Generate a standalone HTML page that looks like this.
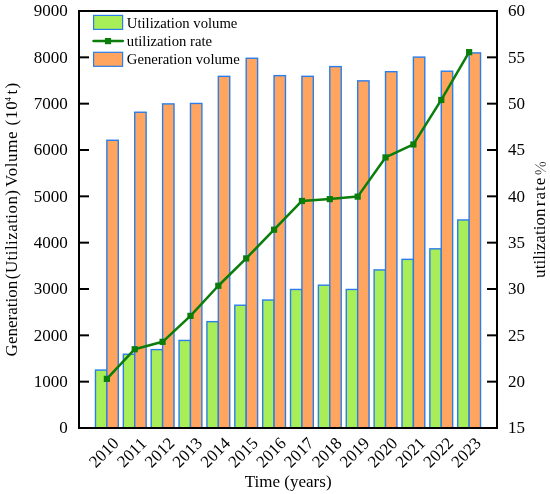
<!DOCTYPE html><html><head><meta charset="utf-8"><title>chart</title><style>html,body{margin:0;padding:0;background:#fff}svg{display:block}text{font-family:"Liberation Serif","Times New Roman",serif;fill:#000}</style></head><body>
<svg width="550" height="494" viewBox="0 0 550 494">
<rect width="550" height="494" fill="#fff"/>
<g stroke="#2A7DEB" stroke-width="1.4">
<rect x="95.47" y="370.08" width="11.40" height="57.92" fill="#A8EE58"/>
<rect x="123.33" y="354.24" width="11.40" height="73.76" fill="#A8EE58"/>
<rect x="151.20" y="349.60" width="11.40" height="78.40" fill="#A8EE58"/>
<rect x="179.07" y="340.43" width="11.40" height="87.57" fill="#A8EE58"/>
<rect x="206.93" y="321.66" width="11.40" height="106.34" fill="#A8EE58"/>
<rect x="234.80" y="305.22" width="11.40" height="122.78" fill="#A8EE58"/>
<rect x="262.67" y="300.03" width="11.40" height="127.97" fill="#A8EE58"/>
<rect x="290.53" y="289.46" width="11.40" height="138.54" fill="#A8EE58"/>
<rect x="318.40" y="285.20" width="11.40" height="142.80" fill="#A8EE58"/>
<rect x="346.27" y="289.46" width="11.40" height="138.54" fill="#A8EE58"/>
<rect x="374.13" y="269.91" width="11.40" height="158.09" fill="#A8EE58"/>
<rect x="402.00" y="259.35" width="11.40" height="168.65" fill="#A8EE58"/>
<rect x="429.87" y="248.83" width="11.40" height="179.17" fill="#A8EE58"/>
<rect x="457.73" y="219.96" width="11.40" height="208.04" fill="#A8EE58"/>
<rect x="106.87" y="140.27" width="11.40" height="287.73" fill="#FFA55F"/>
<rect x="134.73" y="112.24" width="11.40" height="315.76" fill="#FFA55F"/>
<rect x="162.60" y="103.90" width="11.40" height="324.10" fill="#FFA55F"/>
<rect x="190.47" y="103.44" width="11.40" height="324.56" fill="#FFA55F"/>
<rect x="218.33" y="76.33" width="11.40" height="351.67" fill="#FFA55F"/>
<rect x="246.20" y="58.26" width="11.40" height="369.74" fill="#FFA55F"/>
<rect x="274.07" y="75.63" width="11.40" height="352.37" fill="#FFA55F"/>
<rect x="301.93" y="76.33" width="11.40" height="351.67" fill="#FFA55F"/>
<rect x="329.80" y="66.60" width="11.40" height="361.40" fill="#FFA55F"/>
<rect x="357.67" y="80.87" width="11.40" height="347.13" fill="#FFA55F"/>
<rect x="385.53" y="71.70" width="11.40" height="356.30" fill="#FFA55F"/>
<rect x="413.40" y="57.10" width="11.40" height="370.90" fill="#FFA55F"/>
<rect x="441.27" y="71.23" width="11.40" height="356.77" fill="#FFA55F"/>
<rect x="469.13" y="52.89" width="11.40" height="375.11" fill="#FFA55F"/>
</g>
<polyline points="106.87,378.89 134.73,349.23 162.60,341.82 190.47,315.87 218.33,285.76 246.20,258.42 274.07,229.69 301.93,200.97 329.80,199.11 357.67,196.61 385.53,157.41 413.40,144.44 441.27,99.96 469.13,52.14" fill="none" stroke="#0A7D0A" stroke-width="2.5" stroke-linejoin="round" stroke-linecap="round"/>
<rect x="103.77" y="375.79" width="6.2" height="6.2" fill="#0A7D0A"/>
<rect x="131.63" y="346.13" width="6.2" height="6.2" fill="#0A7D0A"/>
<rect x="159.50" y="338.72" width="6.2" height="6.2" fill="#0A7D0A"/>
<rect x="187.37" y="312.77" width="6.2" height="6.2" fill="#0A7D0A"/>
<rect x="215.23" y="282.66" width="6.2" height="6.2" fill="#0A7D0A"/>
<rect x="243.10" y="255.32" width="6.2" height="6.2" fill="#0A7D0A"/>
<rect x="270.97" y="226.59" width="6.2" height="6.2" fill="#0A7D0A"/>
<rect x="298.83" y="197.87" width="6.2" height="6.2" fill="#0A7D0A"/>
<rect x="326.70" y="196.01" width="6.2" height="6.2" fill="#0A7D0A"/>
<rect x="354.57" y="193.51" width="6.2" height="6.2" fill="#0A7D0A"/>
<rect x="382.43" y="154.31" width="6.2" height="6.2" fill="#0A7D0A"/>
<rect x="410.30" y="141.34" width="6.2" height="6.2" fill="#0A7D0A"/>
<rect x="438.17" y="96.86" width="6.2" height="6.2" fill="#0A7D0A"/>
<rect x="466.03" y="49.04" width="6.2" height="6.2" fill="#0A7D0A"/>
<rect x="79.0" y="11.0" width="418.0" height="417.0" fill="none" stroke="#000" stroke-width="2"/>
<g stroke="#000" stroke-width="2">
<line x1="80.0" x2="89.0" y1="381.67" y2="381.67"/>
<line x1="80.0" x2="89.0" y1="335.33" y2="335.33"/>
<line x1="80.0" x2="89.0" y1="289.00" y2="289.00"/>
<line x1="80.0" x2="89.0" y1="242.67" y2="242.67"/>
<line x1="80.0" x2="89.0" y1="196.33" y2="196.33"/>
<line x1="80.0" x2="89.0" y1="150.00" y2="150.00"/>
<line x1="80.0" x2="89.0" y1="103.67" y2="103.67"/>
<line x1="80.0" x2="89.0" y1="57.33" y2="57.33"/>
<line x1="487.0" x2="496.0" y1="381.67" y2="381.67"/>
<line x1="487.0" x2="496.0" y1="335.33" y2="335.33"/>
<line x1="487.0" x2="496.0" y1="289.00" y2="289.00"/>
<line x1="487.0" x2="496.0" y1="242.67" y2="242.67"/>
<line x1="487.0" x2="496.0" y1="196.33" y2="196.33"/>
<line x1="487.0" x2="496.0" y1="150.00" y2="150.00"/>
<line x1="487.0" x2="496.0" y1="103.67" y2="103.67"/>
<line x1="487.0" x2="496.0" y1="57.33" y2="57.33"/>
</g>
<g font-size="17">
<text x="67.7" y="433.25" text-anchor="end">0</text>
<text x="67.7" y="386.92" text-anchor="end">1000</text>
<text x="67.7" y="340.58" text-anchor="end">2000</text>
<text x="67.7" y="294.25" text-anchor="end">3000</text>
<text x="67.7" y="247.92" text-anchor="end">4000</text>
<text x="67.7" y="201.58" text-anchor="end">5000</text>
<text x="67.7" y="155.25" text-anchor="end">6000</text>
<text x="67.7" y="108.92" text-anchor="end">7000</text>
<text x="67.7" y="62.58" text-anchor="end">8000</text>
<text x="67.7" y="16.25" text-anchor="end">9000</text>
<text x="507.9" y="433.25">15</text>
<text x="507.9" y="386.92">20</text>
<text x="507.9" y="340.58">25</text>
<text x="507.9" y="294.25">30</text>
<text x="507.9" y="247.92">35</text>
<text x="507.9" y="201.58">40</text>
<text x="507.9" y="155.25">45</text>
<text x="507.9" y="108.92">50</text>
<text x="507.9" y="62.58">55</text>
<text x="507.9" y="16.25">60</text>
<text transform="translate(103.67,452.3) rotate(-45)" y="5.75" text-anchor="middle">2010</text>
<text transform="translate(131.53,452.3) rotate(-45)" y="5.75" text-anchor="middle">2011</text>
<text transform="translate(159.40,452.3) rotate(-45)" y="5.75" text-anchor="middle">2012</text>
<text transform="translate(187.27,452.3) rotate(-45)" y="5.75" text-anchor="middle">2013</text>
<text transform="translate(215.13,452.3) rotate(-45)" y="5.75" text-anchor="middle">2014</text>
<text transform="translate(243.00,452.3) rotate(-45)" y="5.75" text-anchor="middle">2015</text>
<text transform="translate(270.87,452.3) rotate(-45)" y="5.75" text-anchor="middle">2016</text>
<text transform="translate(298.73,452.3) rotate(-45)" y="5.75" text-anchor="middle">2017</text>
<text transform="translate(326.60,452.3) rotate(-45)" y="5.75" text-anchor="middle">2018</text>
<text transform="translate(354.47,452.3) rotate(-45)" y="5.75" text-anchor="middle">2019</text>
<text transform="translate(382.33,452.3) rotate(-45)" y="5.75" text-anchor="middle">2020</text>
<text transform="translate(410.20,452.3) rotate(-45)" y="5.75" text-anchor="middle">2021</text>
<text transform="translate(438.07,452.3) rotate(-45)" y="5.75" text-anchor="middle">2022</text>
<text transform="translate(465.93,452.3) rotate(-45)" y="5.75" text-anchor="middle">2023</text>
<text x="288.2" y="486.9" text-anchor="middle">Time (years)</text>
<text transform="translate(17.1,0) rotate(-90)"><tspan x="-356.4">Generation</tspan> <tspan x="-279.2" letter-spacing="0.43">(Utilization)</tspan> <tspan x="-187" letter-spacing="0.58">Volume</tspan> <tspan x="-125.4" letter-spacing="0.75">(10</tspan><tspan x="-101.4" dy="-6" font-size="9">4</tspan> <tspan x="-94.6" dy="6" letter-spacing="1.4">t)</tspan></text>
<text transform="translate(545.4,0) rotate(-90)"><tspan x="-277.9" letter-spacing="0.05">utilization</tspan> <tspan x="-206.3" letter-spacing="1.05">rate</tspan><tspan x="-175.2" dy="0.2" font-size="15" fill="#222" style="font-family:'Noto Serif CJK SC','Liberation Serif',serif">%</tspan></text>
</g>
<rect x="93.6" y="15.4" width="29" height="14" fill="#A8EE58" stroke="#2A7DEB" stroke-width="1.2"/>
<line x1="93.5" x2="122.8" y1="41.1" y2="41.1" stroke="#0A7D0A" stroke-width="2.5" stroke-linecap="round"/>
<rect x="104.9" y="38" width="6.2" height="6.2" fill="#0A7D0A"/>
<rect x="93.6" y="52.3" width="29" height="14" fill="#FFA55F" stroke="#2A7DEB" stroke-width="1.2"/>
<g font-size="14.7">
<text x="126.8" y="27.9">Utilization volume</text>
<text x="126.8" y="45.8">utilization rate</text>
<text x="126.8" y="64">Generation volume</text>
</g>
</svg></body></html>
